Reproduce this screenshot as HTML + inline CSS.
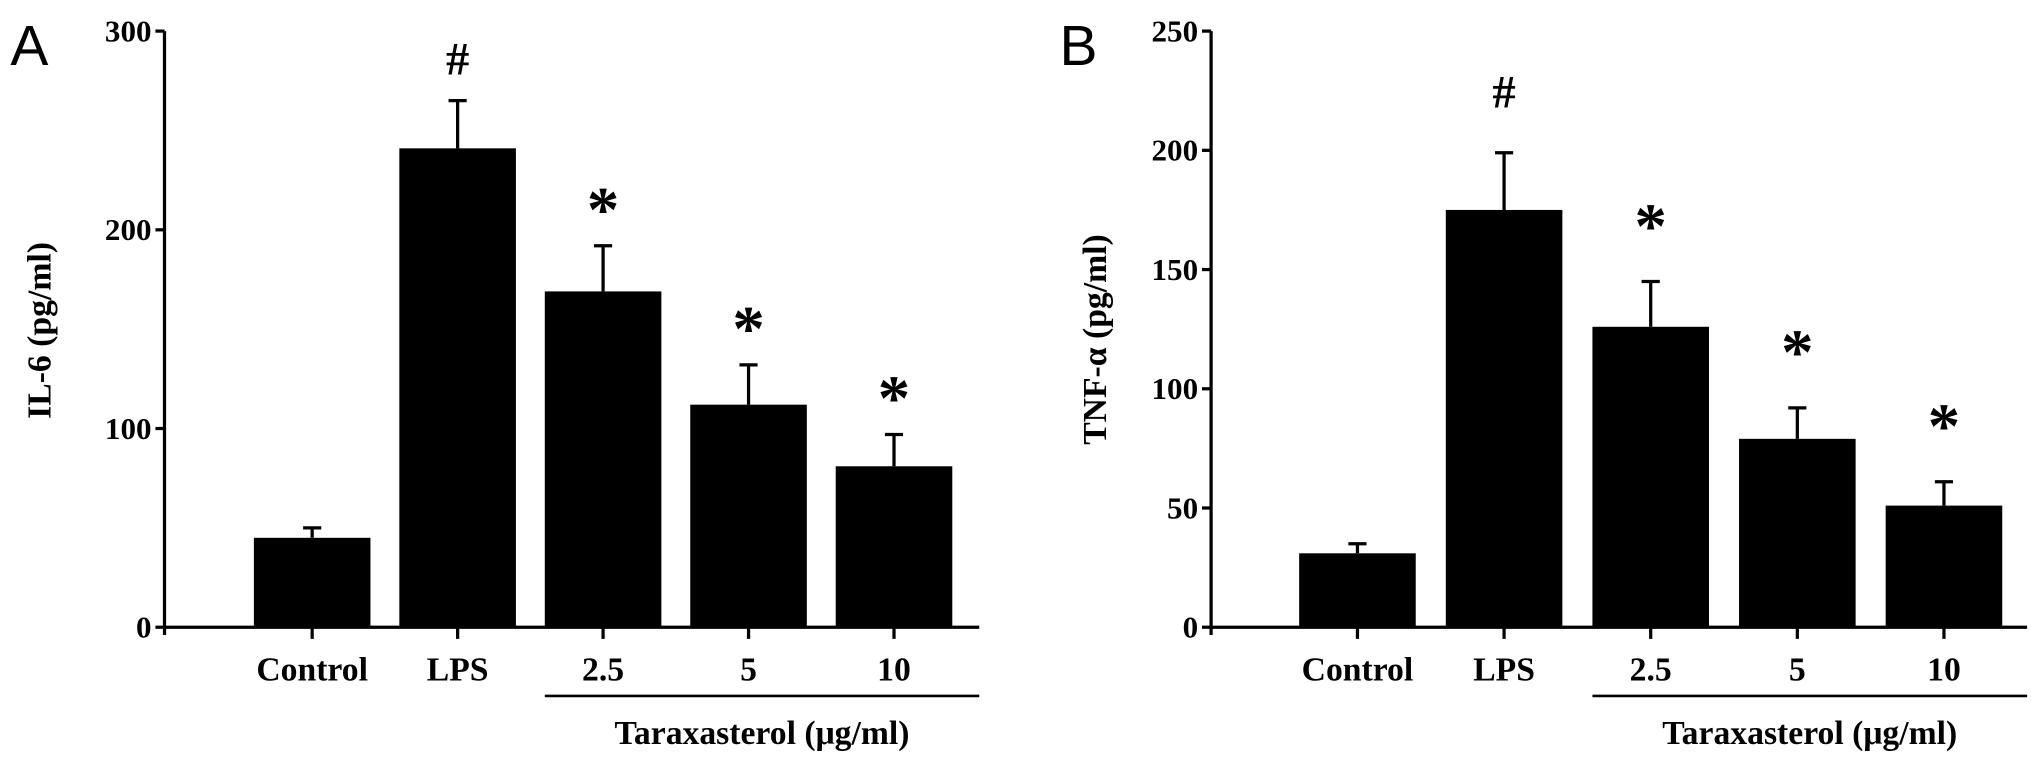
<!DOCTYPE html>
<html><head><meta charset="utf-8"><style>
html,body{margin:0;padding:0;background:#fff;}
svg{display:block;}
text{font-family:"Liberation Serif",serif;font-weight:bold;fill:#000;}
</style></head><body>
<svg id="chart" width="2031" height="762" viewBox="0 0 1568 588" preserveAspectRatio="none" xmlns="http://www.w3.org/2000/svg"></svg>
<script>
const categories = ["Control","LPS","2.5","5","10"];
const il6Values = [45, 241, 169, 112, 81];
const il6Errors = [5, 24, 23, 20, 16];
const il6Marks = ["", "#", "*", "*", "*"];
const il6Ticks = [0, 100, 200, 300];
const tnfValues = [31, 175, 126, 79, 51];
const tnfErrors = [4, 24, 19, 13, 10];
const tnfMarks = ["", "#", "*", "*", "*"];
const tnfTicks = [0, 50, 100, 150, 200, 250];

const NS = "http://www.w3.org/2000/svg";
const svg = document.getElementById("chart");
function mk(tag, attrs, parent){
  const e = document.createElementNS(NS, tag);
  for (const k in attrs) e.setAttribute(k, attrs[k]);
  (parent||svg).appendChild(e);
  return e;
}

function panel(cfg){
  const g = mk("g", {});
  
  
  const y = v => cfg.y0 - (v / cfg.max) * (cfg.y0 - cfg.yTop);
  const x = i => cfg.firstX + i * cfg.step;
  const L = mk("text", {x: cfg.letterX, y: 50, "font-size": 44, style:"font-family:'Liberation Sans',sans-serif;font-weight:normal"}, g);
  L.textContent = cfg.letter;
  
  
  const ya = mk("line", {x1: cfg.axX, y1: cfg.yTop, x2: cfg.axX, y2: cfg.y0 + 6, stroke:"#000","stroke-width":2.5}, g);
  
  
  const xa = mk("line", {x1: cfg.axX, y1: cfg.y0, x2: cfg.axEnd, y2: cfg.y0, stroke:"#000","stroke-width":2.5}, g);
  
  
  cfg.ticks.forEach(t => {
    mk("line", {x1: cfg.axX - 7, y1: y(t), x2: cfg.axX, y2: y(t), stroke:"#000","stroke-width":2.5}, g);
    const tl = mk("text", {x: cfg.axX - 10, y: y(t) + 8, "font-size": 24, "text-anchor":"end"}, g);
    tl.textContent = t;
    
    
  });
  categories.forEach((c, i) => {
    const cx = x(i);
    const bar = mk("rect", {x: cx - 45, y: y(cfg.values[i]), width: 90, height: cfg.y0 - y(cfg.values[i]), fill:"#000"}, g);
    
    
    const top = y(cfg.values[i] + cfg.errors[i]);
    const eb = mk("path", {d: `M${cx},${y(cfg.values[i])}V${top}M${cx-7},${top}H${cx+7}`, stroke:"#000","stroke-width":2.5, fill:"none"}, g);
    
    
    mk("line", {x1: cx, y1: cfg.y0, x2: cx, y2: cfg.y0 + 9, stroke:"#000","stroke-width":2.5}, g);
    const xl = mk("text", {x: cx, y: 525, "font-size": 26, "text-anchor":"middle"}, g);
    xl.textContent = c;
    
    
    if (cfg.marks[i]) {
      const isStar = cfg.marks[i] === "*";
      const center = top - cfg.gap;
      const m = mk("text", {x: cx, y: isStar ? center + 22 : center + 13, "font-size": isStar ? 50 : 36, "text-anchor":"middle"}, g);
      m.textContent = cfg.marks[i];
      
      
    }
  });
  const ul = mk("line", {x1: x(2) - 45, y1: 537, x2: cfg.axEnd, y2: 537, stroke:"#000","stroke-width":2}, g);
  
  
  const gl = mk("text", {x: (x(2) - 45 + cfg.axEnd) / 2, y: 574, "font-size": 26, "text-anchor":"middle"}, g);
  gl.textContent = "Taraxasterol (μg/ml)";
  
  
  const yt = mk("text", {x: 0, y: 0, "font-size": 26, "text-anchor":"middle", transform:`translate(${cfg.titleX},${cfg.titleY}) rotate(-90)`}, g);
  yt.textContent = cfg.title;
  
  
}

panel({name:"panel-a-il6", letter:"A", letterX:8, axX:127, axEnd:756, yTop:24, y0:484, max:300,
  firstX:241, step:112.3, values:il6Values, errors:il6Errors, marks:il6Marks, ticks:il6Ticks,
  title:"IL-6 (pg/ml)", titleX:39, titleY:255, gap:33});
panel({name:"panel-b-tnf", letter:"B", letterX:818, axX:935, axEnd:1565, yTop:24, y0:484, max:250,
  firstX:1048, step:113.2, values:tnfValues, errors:tnfErrors, marks:tnfMarks, ticks:tnfTicks,
  title:"TNF-α (pg/ml)", titleX:854, titleY:262, gap:48});
</script>
</body></html>
